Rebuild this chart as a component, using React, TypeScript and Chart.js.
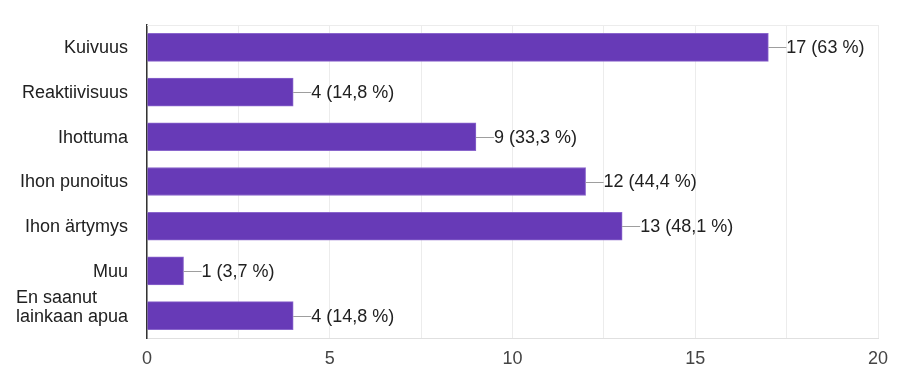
import React, { useEffect, useRef } from "react";
import { Chart, registerables } from "chart.js";

Chart.register(...registerables);

const categories: string[][] = [
  ["Kuivuus"],
  ["Reaktiivisuus"],
  ["Ihottuma"],
  ["Ihon punoitus"],
  ["Ihon ärtymys"],
  ["Muu"],
  ["En saanut", "lainkaan apua"],
];
const counts: number[] = [17, 4, 9, 12, 13, 1, 4];
const percents: string[] = ["63", "14,8", "33,3", "44,4", "48,1", "3,7", "14,8"];
const xTicks: number[] = [0, 5, 10, 15, 20];

const FONT = "'Liberation Sans', Arial, sans-serif";

const labelPlugin = {
  id: "customLabels",
  afterDatasetsDraw(chart: any) {
    const { ctx } = chart;
    const meta = chart.getDatasetMeta(0);
    const yScale = chart.scales.y;
    ctx.save();
    ctx.font = `18px ${FONT}`;
    ctx.textBaseline = "middle";
    meta.data.forEach((bar: any, i: number) => {
      const x = bar.x;
      const y = bar.y;
      ctx.strokeStyle = "#9e9e9e";
      ctx.lineWidth = 1;
      ctx.beginPath();
      ctx.moveTo(x, Math.round(y) + 0.5);
      ctx.lineTo(x + 18, Math.round(y) + 0.5);
      ctx.stroke();
      ctx.fillStyle = "#212121";
      ctx.textAlign = "left";
      ctx.fillText(`${counts[i]} (${percents[i]} %)`, x + 18, y + 1);
    });
    ctx.textAlign = "left";
    ctx.fillStyle = "#212121";
    categories.forEach((lines, i) => {
      const y = yScale.getPixelForValue(i);
      const lh = 19;
      const maxW = Math.max(...lines.map((l) => ctx.measureText(l).width));
      const left = 128 - maxW;
      lines.forEach((line, j) => {
        const off = (j - (lines.length - 1)) * lh;
        ctx.fillText(line, left, y + 1 + off);
      });
    });
    ctx.restore();
  },
};

export default function App() {
  const ref = useRef<HTMLCanvasElement>(null);
  useEffect(() => {
    document.body.style.margin = "0";
    const chart = new Chart(ref.current!, {
      type: "bar",
      data: {
        labels: categories.map((c) => c.join(" ")),
        datasets: [
          {
            data: counts,
            backgroundColor: "#673ab7",
            borderColor: "#8a66cc",
            borderWidth: 1,
            borderSkipped: "left",
            barThickness: 28,
          },
        ],
      },
      options: {
        indexAxis: "y",
        animation: false,
        responsive: false,
        maintainAspectRatio: false,
        layout: { padding: { top: 25, right: 22, left: 0, bottom: 0 } },
        plugins: { legend: { display: false }, tooltip: { enabled: false } },
        scales: {
          x: {
            min: 0,
            max: 20,
            ticks: {
              stepSize: 2.5,
              autoSkip: false,
              maxRotation: 0,
              padding: 10,
              color: "#444",
              font: { family: FONT, size: 18 },
              callback: (v: any) => (xTicks.includes(Number(v)) ? String(v) : ""),
            },
            grid: { color: "#ececec", drawTicks: false },
            border: { display: true, color: "#e0e0e0" },
            afterFit: (s: any) => {
              s.height = 54;
            },
          },
          y: {
            ticks: { display: false },
            grid: { display: false, drawTicks: false },
            border: { display: true, color: "#333", width: 1.5 },
            afterFit: (s: any) => {
              s.width = 147;
            },
          },
        },
      },
      plugins: [
        labelPlugin,
        {
          id: "topBorder",
          afterDraw(chart: any) {
            const { ctx, chartArea } = chart;
            ctx.save();
            ctx.strokeStyle = "#ececec";
            ctx.lineWidth = 1;
            ctx.beginPath();
            ctx.moveTo(chartArea.left, chartArea.top + 0.5);
            ctx.lineTo(chartArea.right, chartArea.top + 0.5);
            ctx.stroke();
            ctx.restore();
          },
        },
      ],
    });
    return () => chart.destroy();
  }, []);
  return (
    <div style={{ position: "fixed", left: 0, top: 0, width: 900, height: 392, background: "#fff" }}>
      <canvas ref={ref} width={900} height={392} />
    </div>
  );
}
